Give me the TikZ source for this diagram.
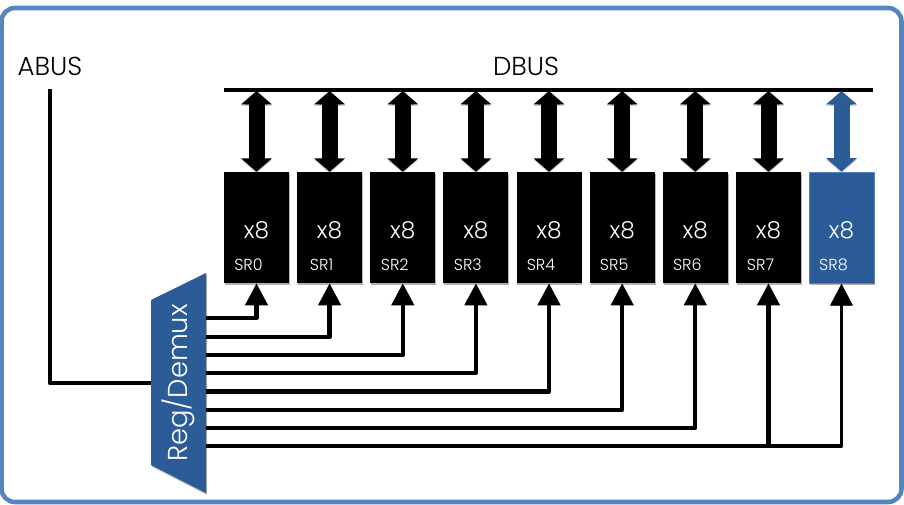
\documentclass[tikz,border=0pt]{standalone}
\usepackage{fontspec}
\setmainfont{Poppins Light}
\usetikzlibrary{arrows.meta,shadows,calc}
\definecolor{muxblue}{HTML}{2C5C97}
\definecolor{frameblue}{HTML}{5585BE}
\tikzset{
  x=0.75pt,y=-0.75pt,
  softshadow/.style={drop shadow={shadow xshift=0.6pt,shadow yshift=-1.2pt,opacity=.3,fill=black}},
  srbox/.style={minimum width=48.75pt,minimum height=83.25pt,inner sep=0pt,fill=black,text=white,softshadow},
  bluebox/.style={srbox,fill=muxblue,draw=frameblue,line width=.75pt},
  wire/.style={draw=black,line width=3.2pt,line join=round,
    preaction={draw=black,draw opacity=.18,transform canvas={yshift=-1.3pt}}},
  thinwire/.style={wire,line width=2.7pt},
  feed/.style={-{Triangle[length=16.5pt,width=16.5pt]}},
  dbl/.style={line width=12pt,draw=black,{Triangle[length=10pt,width=22.5pt]}-{Triangle[length=10pt,width=22.5pt]},
    preaction={draw=black,draw opacity=.18,transform canvas={yshift=-1.2pt}}},
  dblblue/.style={dbl,draw=muxblue,fill=muxblue},
  sizelab/.style={text=white,font=\fontsize{17.5}{20}\selectfont,inner sep=0pt},
  srlab/.style={text=white,font=\fontsize{12}{14}\selectfont,inner sep=0pt},
  buslab/.style={text=black,font=\fontsize{19.5}{22}\selectfont,inner sep=0pt},
}
\begin{document}
\begin{tikzpicture}
\useasboundingbox (0,0) rectangle (904,504);
\fill[white] (0,0) rectangle (904,504);
\draw[frameblue,line width=3.4pt,rounded corners=10pt] (1.5,8) rectangle (901.5,502);

\node[buslab] (abus) at (50,66) {ABUS};
\node[buslab] (dbus) at (526,66) {DBUS};
\coordinate (busL) at (224,90);
\coordinate (busR) at (873,90);
\draw[wire] (busL) -- (busR);

% registers
\foreach \i/\x in {0/256.5,1/329.6,2/402.8,3/475.9,4/549,5/622.2,6/695.3,7/768.5}{
  \node[srbox] (r\i) at (\x,227.5) {};
  \node[sizelab] (s\i) at (\x,230) {x8};
  \node[srlab] (l\i) at (\x-8,264.5) {SR\i};
  \coordinate (t\i) at (\x,91);
  \draw[dbl] (t\i) -- (r\i.north);
}
\node[bluebox] (r8) at (841.5,227.5) {};
\node[sizelab] (s8) at (841.5,230) {x8};
\node[srlab] (l8) at (833.5,264.5) {SR8};
\coordinate (t8) at (841.5,91);
\draw[dblblue] (t8) -- (r8.north);

% demux
\path[fill=muxblue,softshadow] (151,300) -- (206,273) -- (206,493) -- (151,465) -- cycle;
\node[rotate=90,text=white,font=\fontsize{20.5}{24}\selectfont,inner sep=0pt] (muxlab) at (178,383) {Reg/Demux};

% address bus
\coordinate (abusTop) at (50,89);
\coordinate (muxIn) at (151,383);
\draw[wire] (abusTop) |- (muxIn);

% outputs
\foreach \i/\y in {0/318,1/337,2/355,3/373,4/391.5,5/410,6/428}{
  \coordinate (o\i) at (206,\y);
  \draw[wire,feed] (o\i) -| (r\i.south);
}
\coordinate (o7) at (206,446);
\draw[thinwire,feed] (o7) -| (r8.south);
\draw[wire,feed] (o7) -| (r7.south);
\end{tikzpicture}
\end{document}
